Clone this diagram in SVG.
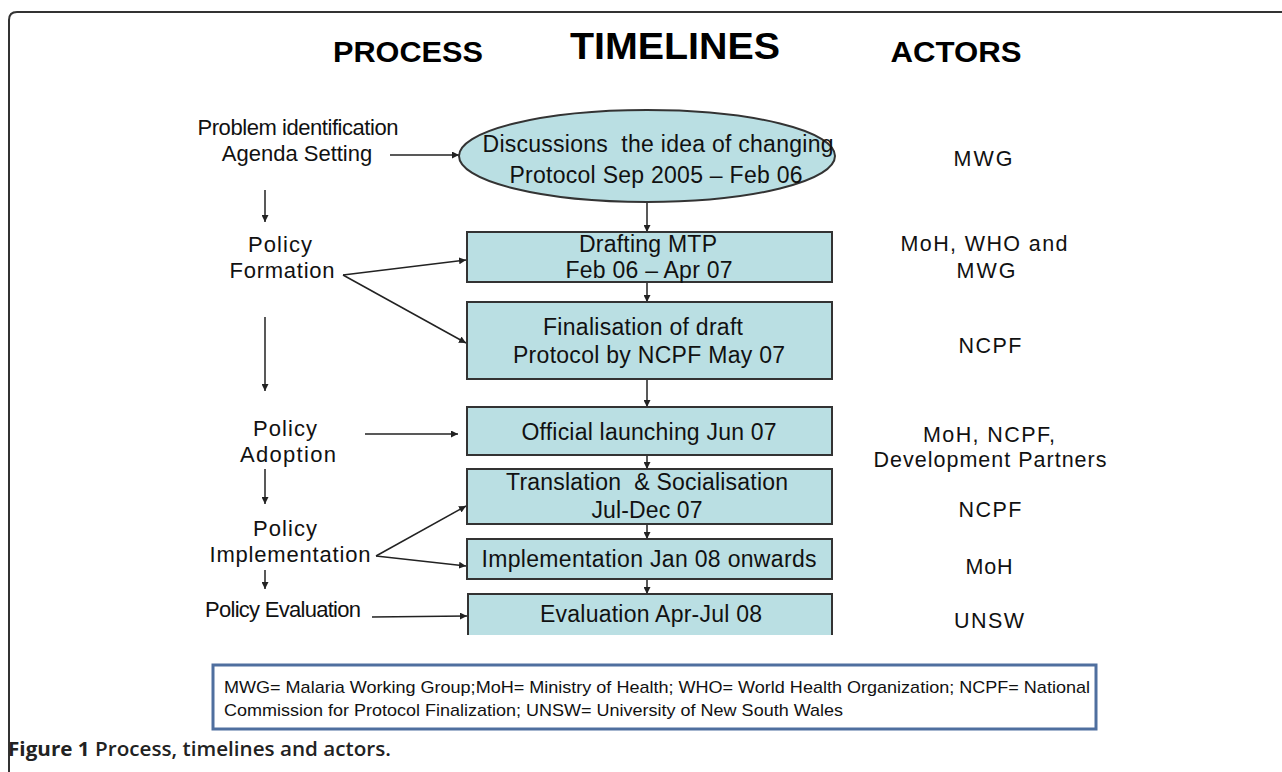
<svg xmlns="http://www.w3.org/2000/svg" width="1282" height="772" viewBox="0 0 1282 772">
<style>
.hd{font-family:"Liberation Sans",Arial,sans-serif;font-weight:bold;fill:#000;text-anchor:middle}
.t{font-family:"Liberation Sans",Arial,sans-serif;font-size:23px;fill:#111;text-anchor:middle}
.lbl{font-family:"Liberation Sans",Arial,sans-serif;font-size:22px;fill:#111;text-anchor:middle}
.act{font-family:"Liberation Sans",Arial,sans-serif;font-size:21.5px;fill:#111;text-anchor:middle}
.box{fill:#badfe3;stroke:#333;stroke-width:2}
.ln{stroke:#222;stroke-width:1.5;fill:none;marker-end:url(#ah)}
.leg{font-family:"Liberation Sans",Arial,sans-serif;font-size:17px;fill:#111}
</style>
<defs>
<marker id="ah" viewBox="0 0 10 10" refX="10" refY="5" markerWidth="7" markerHeight="7" markerUnits="userSpaceOnUse" orient="auto">
<path d="M0,0 L10,5 L0,10 z" fill="#222"/>
</marker>
</defs>
<rect width="1282" height="772" fill="#fff"/>
<path d="M9,790 L9,20 Q9,12 17,12 L1290,12" fill="none" stroke="#333" stroke-width="2"/>

<g id="headers">
<text class="hd" x="408" y="62" font-size="29" textLength="150" lengthAdjust="spacingAndGlyphs">PROCESS</text>
<text class="hd" x="675" y="59" font-size="37" textLength="210" lengthAdjust="spacingAndGlyphs">TIMELINES</text>
<text class="hd" x="956" y="62" font-size="29" textLength="131" lengthAdjust="spacingAndGlyphs">ACTORS</text>
</g>

<g id="connectors">
<line class="ln" x1="647" y1="202" x2="647" y2="232"/>
<line class="ln" x1="647" y1="272" x2="647" y2="302"/>
<line class="ln" x1="647" y1="379" x2="647" y2="407"/>
<line class="ln" x1="647" y1="450" x2="647" y2="469"/>
<line class="ln" x1="647" y1="521" x2="647" y2="539"/>
<line class="ln" x1="647" y1="575" x2="647" y2="594"/>
<line class="ln" x1="390" y1="155" x2="459" y2="155"/>
<line class="ln" x1="265" y1="190" x2="265" y2="222"/>
<line class="ln" x1="343" y1="275" x2="466" y2="260"/>
<line class="ln" x1="343" y1="275" x2="466" y2="343"/>
<line class="ln" x1="265" y1="317" x2="265" y2="391"/>
<line class="ln" x1="365" y1="434" x2="458" y2="434"/>
<line class="ln" x1="265" y1="469" x2="265" y2="504"/>
<line class="ln" x1="376" y1="556" x2="466" y2="506"/>
<line class="ln" x1="376" y1="556" x2="466" y2="566"/>
<line class="ln" x1="265" y1="570" x2="265" y2="589"/>
<line class="ln" x1="372" y1="617" x2="467" y2="616"/>
</g>

<g id="n-discussions">
<ellipse class="box" cx="647" cy="156" rx="188" ry="46"/>
<text class="t" x="658" y="152" font-size="23.5" textLength="351" lengthAdjust="spacing" xml:space="preserve">Discussions  the idea of changing</text>
<text class="t" x="656" y="183" font-size="23.5" textLength="293" lengthAdjust="spacing">Protocol Sep 2005 – Feb 06</text>
</g>
<g id="n-drafting">
<rect class="box" x="467" y="232" width="365" height="50"/>
<text class="t" x="648" y="252" textLength="138" lengthAdjust="spacing">Drafting MTP</text>
<text class="t" x="649" y="278" textLength="167" lengthAdjust="spacing">Feb 06 – Apr 07</text>
</g>
<g id="n-finalisation">
<rect class="box" x="467" y="302" width="365" height="77"/>
<text class="t" x="643" y="335" textLength="200" lengthAdjust="spacing">Finalisation of draft</text>
<text class="t" x="649" y="363" textLength="272" lengthAdjust="spacing">Protocol by NCPF May 07</text>
</g>
<g id="n-launch">
<rect class="box" x="467" y="407" width="365" height="48"/>
<text class="t" x="649" y="440" textLength="255" lengthAdjust="spacing">Official launching Jun 07</text>
</g>
<g id="n-translation">
<rect class="box" x="467" y="469" width="365" height="55"/>
<text class="t" x="647" y="490" textLength="282" lengthAdjust="spacing" xml:space="preserve">Translation  &amp; Socialisation</text>
<text class="t" x="647" y="518" textLength="111" lengthAdjust="spacing">Jul-Dec 07</text>
</g>
<g id="n-implementation">
<rect class="box" x="467" y="539" width="365" height="40"/>
<text class="t" x="649" y="567" textLength="335" lengthAdjust="spacing">Implementation Jan 08 onwards</text>
</g>
<g id="n-evaluation">
<rect x="468" y="594" width="364" height="41" fill="#badfe3"/>
<path d="M468,635 L468,594 L832,594 L832,635" fill="none" stroke="#333" stroke-width="2"/>
<text class="t" x="651" y="622" textLength="222" lengthAdjust="spacing">Evaluation Apr-Jul 08</text>
</g>

<g id="process-labels">
<text class="lbl" x="298" y="135" font-size="20" textLength="201" lengthAdjust="spacing">Problem identification</text>
<text class="lbl" x="297" y="161" font-size="20">Agenda Setting</text>
<text class="lbl" x="280" y="252" textLength="64" lengthAdjust="spacing">Policy</text>
<text class="lbl" x="282" y="278" textLength="105" lengthAdjust="spacing">Formation</text>
<text class="lbl" x="285" y="436" textLength="64" lengthAdjust="spacing">Policy</text>
<text class="lbl" x="288" y="462" textLength="96" lengthAdjust="spacing">Adoption</text>
<text class="lbl" x="285" y="536" textLength="64" lengthAdjust="spacing">Policy</text>
<text class="lbl" x="290" y="562" textLength="161" lengthAdjust="spacing">Implementation</text>
<text class="lbl" x="283" y="617" font-size="19" textLength="156" lengthAdjust="spacing">Policy Evaluation</text>
</g>

<g id="actors">
<text class="act" x="983" y="166" textLength="59" lengthAdjust="spacing">MWG</text>
<text class="act" x="984" y="251" textLength="167" lengthAdjust="spacing">MoH, WHO and</text>
<text class="act" x="986" y="278" textLength="59" lengthAdjust="spacing">MWG</text>
<text class="act" x="990" y="353" textLength="63" lengthAdjust="spacing">NCPF</text>
<text class="act" x="989" y="442" textLength="132" lengthAdjust="spacing">MoH, NCPF,</text>
<text class="act" x="990" y="467" textLength="233" lengthAdjust="spacing">Development Partners</text>
<text class="act" x="990" y="517" textLength="63" lengthAdjust="spacing">NCPF</text>
<text class="act" x="989" y="574" textLength="47" lengthAdjust="spacing">MoH</text>
<text class="act" x="989" y="628" textLength="70" lengthAdjust="spacing">UNSW</text>
</g>

<g id="legend">
<rect x="213" y="665" width="883" height="64" fill="#fff" stroke="#4f6f9f" stroke-width="3"/>
<text class="leg" x="224" y="693" textLength="866" lengthAdjust="spacingAndGlyphs">MWG= Malaria Working Group;MoH= Ministry of Health; WHO= World Health Organization; NCPF= National</text>
<text class="leg" x="224" y="716" textLength="619" lengthAdjust="spacingAndGlyphs">Commission for Protocol Finalization; UNSW= University of New South Wales</text>
</g>

<text x="8" y="756" font-family="'Open Sans','Liberation Sans',sans-serif" font-size="19" fill="#222" textLength="383" lengthAdjust="spacingAndGlyphs"><tspan font-weight="bold">Figure 1</tspan><tspan font-weight="600"> Process, timelines and actors.</tspan></text>
</svg>
